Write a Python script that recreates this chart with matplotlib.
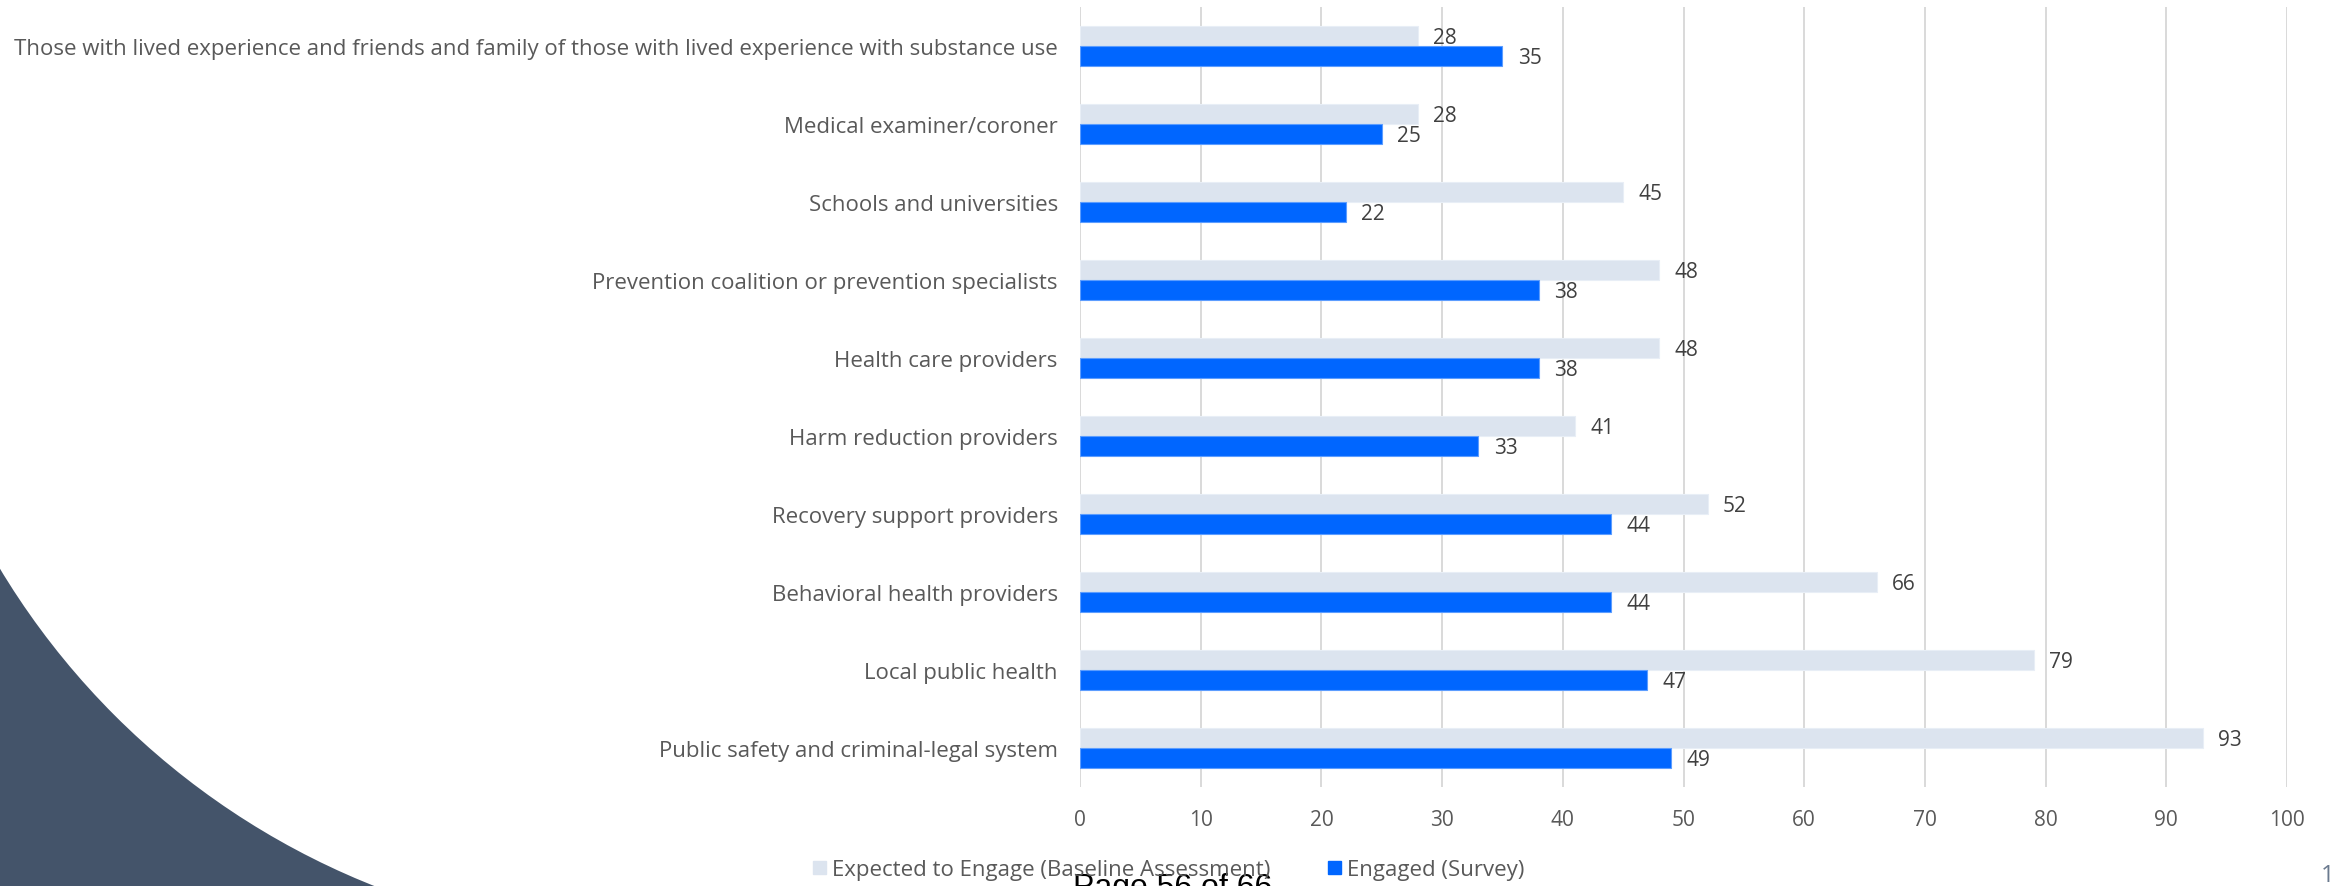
import numpy as np
import matplotlib
matplotlib.use('Agg')
import matplotlib.pyplot as plt
from matplotlib.patches import Rectangle, Circle, Patch

plt.rcParams['font.family'] = ['Open Sans', 'DejaVu Sans']

# stakeholder groups, top to bottom
groups = [
    'Those with lived experience and friends and family of those with lived experience with substance use',
    'Medical examiner/coroner',
    'Schools and universities',
    'Prevention coalition or prevention specialists',
    'Health care providers',
    'Harm reduction providers',
    'Recovery support providers',
    'Behavioral health providers',
    'Local public health',
    'Public safety and criminal-legal system',
]
expected = [28, 28, 45, 48, 48, 41, 52, 66, 79, 93]
engaged = [35, 25, 22, 38, 38, 33, 44, 44, 47, 49]
series_names = ['Expected to Engage (Baseline Assessment)', 'Engaged (Survey)']
x_ticks = list(range(0, 101, 10))

light = '#DCE4EF'
blue = '#0066FF'
grey_txt = '#595959'
val_txt = '#404040'

W, H = 2333, 887
fig = plt.figure(figsize=(W / 100, H / 100), dpi=100)

# corner decoration behind everything
bg = fig.add_axes([0, 0, 1, 1], zorder=-1)
bg.set_xlim(0, W)
bg.set_ylim(H, 0)
bg.axis('off')
bg.add_patch(Rectangle((0, 540), 420, 360, color='#44546A', lw=0))
bg.add_patch(Circle((657, 174), 767, color='white', lw=0))

ax = fig.add_axes([1080 / W, 1 - 788 / H, (2287 - 1080) / W, (788 - 8) / H])
ax.patch.set_alpha(0)

y = np.arange(len(groups))
h = 0.262
b1 = ax.barh(y - h / 2, expected, height=h, color=light, edgecolor='#E8EEF6', lw=0.8,
             label=series_names[0], zorder=3)
b2 = ax.barh(y + h / 2, engaged, height=h, color=blue, edgecolor='#5C9DFF', lw=0.8,
             label=series_names[1], zorder=3)

for bars, vals in ((b1, expected), (b2, engaged)):
    for bar, v in zip(bars, vals):
        ax.annotate(str(v), (v, bar.get_y() + bar.get_height() / 2),
                    xytext=(11, -1), textcoords='offset points',
                    ha='left', va='center', fontsize=15, color=val_txt)

ax.set_xlim(0, 100)
ax.set_ylim(len(groups) - 0.5, -0.5)
ax.set_xticks(x_ticks)
ax.set_yticks(y)
ax.set_yticklabels(groups, fontsize=16)
ax.tick_params(axis='both', length=0, labelcolor=grey_txt)
ax.tick_params(axis='x', labelsize=15, pad=16)
ax.tick_params(axis='y', pad=16)
ax.grid(axis='x', color='#D9D9D9', lw=1.4, zorder=0)
ax.set_axisbelow(True)
for s in ax.spines.values():
    s.set_visible(False)

leg = fig.legend(handles=[Patch(color=light), Patch(color=blue)], labels=series_names,
                 loc='center', bbox_to_anchor=(1169 / W, 1 - 871 / H), ncol=2,
                 frameon=False, fontsize=16, handlelength=0.55, handleheight=0.55,
                 handletextpad=0.3, columnspacing=2.6, labelcolor=grey_txt)

fig.text(1073 / W, 1 - 873 / H, 'Page 56 of 66', family='Liberation Sans', fontsize=23,
         color='black', ha='left', va='top')
fig.text(2321 / W, 1 - 876 / H, '1', fontsize=17, color='#6B7A8F', ha='left', va='center')

fig.savefig('out.png', dpi=100)
